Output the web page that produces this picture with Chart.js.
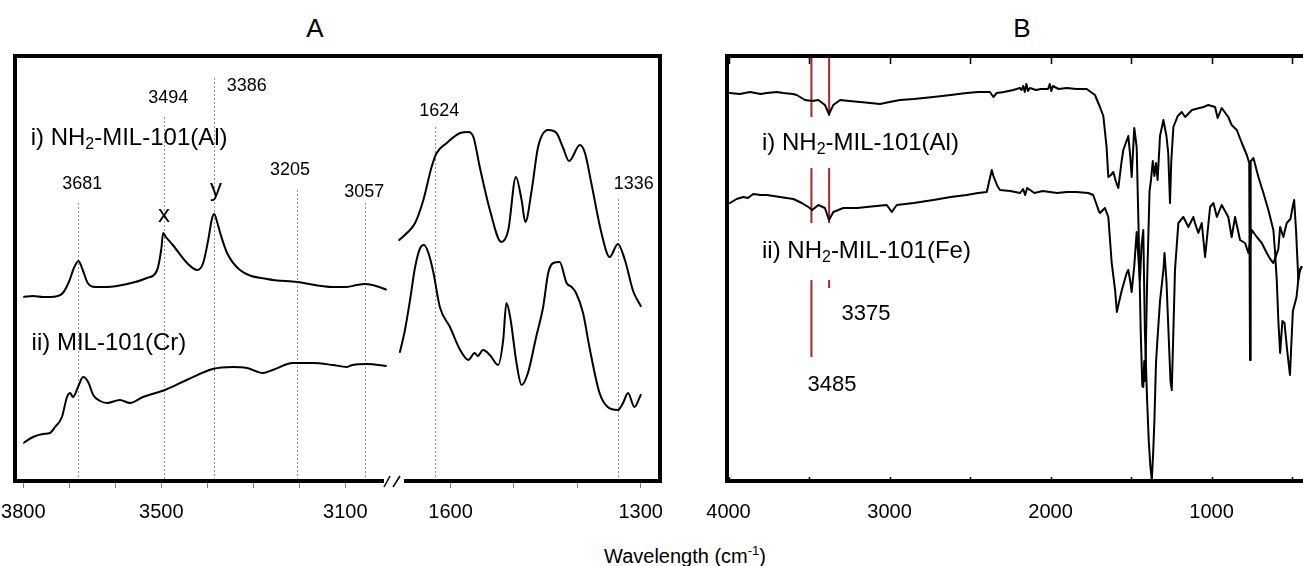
<!DOCTYPE html>
<html>
<head>
<meta charset="utf-8">
<script src="https://cdn.jsdelivr.net/npm/chart.js@4.4.0/dist/chart.umd.min.js"></script>
<style>
  body { margin: 0; width: 1303px; height: 566px; overflow: hidden; background: #fff; position: relative;
         font-family: "Liberation Sans", Arial, sans-serif; }
  canvas { position: absolute; top: 0; }
  .frame { position: absolute; box-sizing: border-box; border: 0 solid #000; pointer-events: none; z-index: 5; }
  .bar { position: absolute; background: #000; z-index: 5; }
  .lbl { position: absolute; color: #000; white-space: nowrap; transform: translateX(-50%); }
</style>
</head>
<body>
<div class="lbl" style="left:315px; top:15px; font-size:26px; line-height:26px;">A</div>
<div class="lbl" style="left:1022px; top:15px; font-size:26px; line-height:26px;">B</div>
<div class="lbl" style="left:685px; top:541px; font-size:20px; line-height:20px;">Wavelength (cm<sup style="font-size:13px;">-1</sup>)</div>

<canvas id="aLeft" width="410" height="566" style="left:0px;"></canvas>
<canvas id="aRight" width="280" height="566" style="left:390px;"></canvas>
<canvas id="bChart" width="603" height="566" style="left:700px;"></canvas>

<div class="frame" style="left:13px; top:54px; width:649px; height:429px; border-width:4px 4px 0 4px;"></div>
<div class="bar" style="left:13px; top:479px; width:371px; height:4px;"></div>
<div class="bar" style="left:404px; top:479px; width:258px; height:4px;"></div>
<div class="frame" style="left:725px; top:54px; width:700px; height:429px; border-width:4px 0 4px 4px;"></div>

<script>
// Panel A, left segment (3800-3010 cm-1)
const aLeftAlWave = [3800, 3779, 3757, 3742, 3725, 3714, 3700, 3690, 3680, 3670, 3660, 3644, 3618, 3574, 3531, 3509, 3500, 3496, 3490, 3475, 3444, 3422, 3409, 3398, 3390, 3385, 3378, 3372, 3357, 3329, 3270, 3205, 3127, 3097, 3075, 3058, 3041, 3008];
const aLeftAlVal = [184, 185, 184, 184, 185, 188, 200, 213, 220, 210, 198, 194, 194, 197, 203, 211, 232, 248, 244, 236, 218, 211, 218, 241, 262, 267, 258, 248, 228, 211, 202, 199, 194, 194, 196, 197, 196, 191];
const aLeftCrWave = [3800, 3779, 3757, 3742, 3731, 3716, 3705, 3698, 3692, 3681, 3670, 3659, 3648, 3633, 3618, 3590, 3568, 3540, 3492, 3445, 3388, 3345, 3314, 3279, 3258, 3214, 3170, 3127, 3097, 3084, 3053, 3008];
const aLeftCrVal = [38, 44, 47, 48, 54, 64, 84, 88, 84, 94, 104, 99, 86, 80, 78, 81, 78, 84, 91, 101, 112, 114, 113, 108, 111, 118, 118, 116, 114, 116, 117, 115];

// Panel A, right segment (1683-1298 cm-1)
const aRightAlWave = [1681, 1669, 1656, 1643, 1630, 1622, 1606, 1585, 1572, 1564, 1554, 1538, 1520, 1509, 1497, 1488, 1482, 1472, 1462, 1446, 1433, 1423, 1413, 1396, 1388, 1378, 1362, 1349, 1336, 1325, 1312, 1300];
const aRightAlVal = [241, 248, 258, 281, 314, 328, 338, 348, 349, 344, 314, 271, 239, 251, 304, 281, 259, 291, 334, 351, 348, 334, 320, 336, 328, 298, 248, 224, 237, 221, 190, 175];
const aRightCrWave = [1680, 1672, 1664, 1656, 1648, 1642, 1635, 1627, 1617, 1601, 1585, 1572, 1562, 1557, 1549, 1538, 1525, 1517, 1512, 1506, 1496, 1488, 1478, 1465, 1454, 1446, 1438, 1428, 1417, 1409, 1402, 1391, 1381, 1365, 1352, 1336, 1328, 1320, 1310, 1300];
const aRightCrVal = [129, 151, 181, 214, 233, 236, 228, 208, 174, 154, 131, 121, 128, 125, 131, 126, 116, 141, 178, 164, 118, 96, 108, 144, 174, 208, 218, 219, 198, 194, 188, 168, 134, 88, 74, 71, 78, 88, 74, 86];

// Panel B (4000-432 cm-1)
const bAlWave = [3991, 3930, 3866, 3800, 3763, 3700, 3660, 3600, 3576, 3525, 3480, 3442, 3401, 3376, 3349, 3307, 3250, 3183, 3120, 3059, 3000, 2935, 2850, 2728, 2620, 2521, 2450, 2376, 2355, 2334, 2290, 2231, 2190, 2180, 2170, 2160, 2150, 2140, 2128, 2090, 2060, 2015, 2005, 1995, 1985, 1950, 1899, 1840, 1775, 1724, 1693, 1672, 1652, 1641, 1625, 1610, 1595, 1579, 1560, 1548, 1517, 1505, 1496, 1480, 1465, 1450, 1440, 1430, 1424, 1418, 1412, 1400, 1385, 1376, 1365, 1355, 1345, 1335, 1320, 1299, 1280, 1269, 1258, 1250, 1237, 1210, 1185, 1164, 1122, 1050, 1020, 978, 962, 937, 896, 875, 843, 812, 781, 766, 761, 757, 750, 740, 709, 678, 647, 616, 606, 595, 585, 574, 560, 547, 530, 513, 495, 472, 457, 441];
const bAlVal = [388, 387, 389, 387, 388, 389, 388, 387, 386, 381, 380, 381, 376, 367, 376, 381, 380, 379, 378, 377, 379, 381, 382, 384, 386, 388, 389, 389, 384, 388, 389, 391, 393, 391, 395, 389, 397, 390, 393, 391, 392, 392, 397, 390, 395, 392, 393, 392, 392, 386, 374, 365, 334, 304, 306, 309, 300, 293, 318, 331, 345, 325, 304, 353, 334, 230, 150, 95, 94, 120, 100, 200, 290, 301, 320, 305, 318, 301, 345, 361, 345, 328, 278, 320, 354, 365, 369, 364, 371, 374, 376, 374, 363, 373, 364, 356, 351, 338, 326, 318, 121, 320, 321, 323, 304, 288, 271, 251, 230, 201, 160, 128, 160, 158, 130, 106, 170, 184, 208, 214];
const bFeWave = [3991, 3950, 3908, 3880, 3846, 3800, 3763, 3720, 3680, 3640, 3597, 3545, 3504, 3480, 3442, 3401, 3376, 3349, 3287, 3200, 3142, 3080, 3017, 2986, 2955, 2850, 2728, 2620, 2521, 2450, 2396, 2365, 2355, 2345, 2330, 2314, 2250, 2189, 2170, 2158, 2145, 2100, 2050, 2003, 1960, 1899, 1840, 1766, 1735, 1713, 1700, 1693, 1662, 1641, 1620, 1599, 1588, 1573, 1557, 1527, 1517, 1505, 1496, 1480, 1465, 1455, 1445, 1435, 1424, 1414, 1400, 1390, 1380, 1371, 1362, 1355, 1345, 1335, 1320, 1299, 1292, 1280, 1265, 1255, 1247, 1237, 1227, 1206, 1175, 1144, 1113, 1103, 1082, 1061, 1040, 1009, 988, 967, 937, 896, 875, 854, 823, 792, 771, 750, 719, 688, 657, 636, 616, 600, 585, 574, 554, 533, 510, 495, 487, 475, 461, 450, 441];
const bFeVal = [278, 282, 284, 283, 287, 286, 286, 285, 284, 283, 282, 278, 274, 271, 276, 273, 261, 269, 273, 273, 274, 275, 276, 269, 276, 278, 281, 284, 286, 288, 289, 311, 305, 301, 295, 291, 290, 288, 292, 286, 293, 288, 290, 289, 288, 289, 289, 288, 286, 276, 270, 268, 273, 264, 218, 191, 169, 180, 191, 208, 211, 200, 189, 215, 249, 225, 200, 235, 251, 150, 80, 40, 15, 1, 30, 60, 118, 144, 180, 211, 228, 200, 140, 100, 91, 150, 211, 258, 264, 254, 264, 258, 248, 258, 224, 274, 278, 264, 276, 264, 244, 264, 241, 238, 228, 251, 244, 238, 228, 222, 218, 225, 232, 254, 244, 258, 262, 275, 281, 250, 201, 212, 214];

// tick positions and the tick labels that are printed
const aLeftTicks = [3800, 3700, 3600, 3500, 3400, 3300, 3200, 3100];
const aLeftTickLabels = [3800, 3500, 3100];
const aRightTicks = [1600, 1500, 1400, 1300];
const aRightTickLabels = [1600, 1300];
const bTicks = [4000, 3500, 3000, 2500, 2000, 1500, 1000, 500];
const bTickLabels = [4000, 3000, 2000, 1000];

// marked peaks
const aLeftPeaks = [3681, 3494, 3386, 3205, 3057];
const aRightPeaks = [1624, 1336];
const bPeaks = [3485, 3375];

const FONT = '"Liberation Sans", Arial, sans-serif';

function toPoints(wave, val) {
    return wave.map(function (w, i) { return { x: w, y: val[i] }; });
}

// text with {2} style subscripts, y is the baseline
function drawRich(ctx, str, x, y, size, align) {
    const parts = str.split(/(\{[^}]*\})/).filter(Boolean).map(function (p) {
        return p[0] === "{" ? { t: p.slice(1, -1), sub: true } : { t: p, sub: false };
    });
    const big = size + "px " + FONT;
    const small = Math.round(size * 0.65) + "px " + FONT;
    let w = 0;
    parts.forEach(function (p) {
        ctx.font = p.sub ? small : big;
        p.w = ctx.measureText(p.t).width;
        w += p.w;
    });
    let cx = align === "center" ? x - w / 2 : x;
    ctx.textAlign = "left";
    ctx.textBaseline = "alphabetic";
    ctx.fillStyle = "#000";
    parts.forEach(function (p) {
        ctx.font = p.sub ? small : big;
        ctx.fillText(p.t, cx, p.sub ? y + size * 0.18 : y);
        cx += p.w;
    });
}

const notesPlugin = {
    id: "notes",
    beforeDatasetsDraw(chart, args, opts) {
        const ctx = chart.ctx, xs = chart.scales.x, ys = chart.scales.y;
        ctx.save();
        ctx.strokeStyle = "#8c8c8c";
        ctx.lineWidth = 1;
        ctx.setLineDash([2, 2]);
        (opts.dotted || []).forEach(function (d) {
            const px = Math.round(xs.getPixelForValue(d.x)) + 0.5;
            ctx.beginPath();
            ctx.moveTo(px, ys.getPixelForValue(d.top));
            ctx.lineTo(px, ys.getPixelForValue(0));
            ctx.stroke();
        });
        ctx.setLineDash([]);
        ctx.strokeStyle = "#a3272b";
        ctx.lineWidth = 2;
        (opts.red || []).forEach(function (r) {
            const px = xs.getPixelForValue(r.x);
            r.spans.forEach(function (s) {
                ctx.beginPath();
                ctx.moveTo(px, ys.getPixelForValue(s[0]));
                ctx.lineTo(px, ys.getPixelForValue(s[1]));
                ctx.stroke();
            });
        });
        ctx.restore();
    },
    afterDatasetsDraw(chart, args, opts) {
        const ctx = chart.ctx, xs = chart.scales.x, ys = chart.scales.y, area = chart.chartArea;
        ctx.save();
        (opts.texts || []).forEach(function (t) {
            drawRich(ctx, t.s, xs.getPixelForValue(t.x), ys.getPixelForValue(t.y), t.size, t.align);
        });
        if (opts.breakMarks) {
            ctx.strokeStyle = "#000";
            ctx.lineWidth = 1.5;
            [[384, 390], [393, 400]].forEach(function (m) {
                ctx.beginPath();
                ctx.moveTo(m[0], 487);
                ctx.lineTo(m[1], 476);
                ctx.stroke();
            });
        }
        if (opts.innerTicks) {
            ctx.strokeStyle = "#000";
            ctx.lineWidth = 1.5;
            xs.ticks.forEach(function (tk) {
                const px = Math.round(xs.getPixelForValue(tk.value)) + 0.5;
                ctx.beginPath();
                ctx.moveTo(px, area.top);
                ctx.lineTo(px, area.top + 8);
                ctx.moveTo(px, area.bottom);
                ctx.lineTo(px, area.bottom - 4);
                ctx.stroke();
            });
        }
        ctx.restore();
    }
};

function lineSet(wave, val, smooth) {
    return {
        data: toPoints(wave, val),
        borderColor: "#000",
        borderWidth: 2,
        pointRadius: 0,
        fill: false,
        borderJoinStyle: "round",
        borderCapStyle: "round",
        cubicInterpolationMode: smooth ? "monotone" : "default",
        tension: 0
    };
}

function makeChart(id, sets, xr, tickVals, labels, pad, outerTicks, notes) {
    const ctx = document.getElementById(id).getContext("2d");
    return new Chart(ctx, {
        type: "line",
        data: { datasets: sets },
        options: {
            responsive: false,
            animation: false,
            events: [],
            layout: { padding: pad },
            plugins: { legend: { display: false }, tooltip: { enabled: false }, notes: notes },
            scales: {
                x: {
                    type: "linear",
                    reverse: true,
                    min: xr[0],
                    max: xr[1],
                    afterBuildTicks: function (scale) {
                        scale.ticks = tickVals.map(function (v) { return { value: v }; });
                    },
                    afterTickToLabelConversion: function (scale) {
                        scale.ticks.forEach(function (t) {
                            t.label = labels.indexOf(t.value) >= 0 ? String(t.value) : "";
                        });
                    },
                    afterFit: function (scale) {
                        scale.height = 60;
                        scale.paddingLeft = 0;
                        scale.paddingRight = 0;
                    },
                    border: { display: false },
                    grid: {
                        display: outerTicks,
                        drawOnChartArea: false,
                        drawTicks: outerTicks,
                        tickLength: 7,
                        color: "#7a7a7a",
                        lineWidth: 1
                    },
                    ticks: {
                        autoSkip: false,
                        maxRotation: 0,
                        padding: outerTicks ? 12 : 19,
                        color: "#000",
                        font: { family: FONT, size: 20 }
                    }
                },
                y: { display: false, min: 0, max: 425 }
            }
        },
        plugins: [notesPlugin]
    });
}

makeChart("aLeft",
    [lineSet(aLeftAlWave, aLeftAlVal, true), lineSet(aLeftCrWave, aLeftCrVal, true)],
    [3010, 3800], aLeftTicks, aLeftTickLabels,
    { left: 23.3, right: 23.3, top: 56, bottom: 25 }, true,
    {
        dotted: [
            { x: aLeftPeaks[0], top: 278 }, { x: aLeftPeaks[1], top: 364 }, { x: aLeftPeaks[2], top: 403 },
            { x: aLeftPeaks[3], top: 291 }, { x: aLeftPeaks[4], top: 278 }
        ],
        texts: [
            { s: "3681", x: 3672, y: 292, size: 18, align: "center" },
            { s: "3494", x: 3485, y: 378, size: 18, align: "center" },
            { s: "3386", x: 3314, y: 390, size: 18, align: "center" },
            { s: "3205", x: 3220, y: 306, size: 18, align: "center" },
            { s: "3057", x: 3059, y: 284, size: 18, align: "center" },
            { s: "x", x: 3494, y: 259, size: 24, align: "center" },
            { s: "y", x: 3381, y: 285, size: 24, align: "center" },
            { s: "i) NH{2}-MIL-101(Al)", x: 3784, y: 336, size: 24, align: "left" },
            { s: "ii) MIL-101(Cr)", x: 3782, y: 131, size: 24, align: "left" }
        ],
        breakMarks: true
    });

makeChart("aRight",
    [lineSet(aRightAlWave, aRightAlVal, true), lineSet(aRightCrWave, aRightCrVal, true)],
    [1298, 1683], aRightTicks, aRightTickLabels,
    { left: 8, right: 28, top: 56, bottom: 25 }, true,
    {
        dotted: [{ x: aRightPeaks[0], top: 354 }, { x: aRightPeaks[1], top: 282 }],
        texts: [
            { s: "1624", x: 1618, y: 365, size: 18, align: "center" },
            { s: "1336", x: 1311, y: 292, size: 18, align: "center" }
        ]
    });

makeChart("bChart",
    [lineSet(bAlWave, bAlVal, false), lineSet(bFeWave, bFeVal, false)],
    [432, 4000], bTicks, bTickLabels,
    { left: 28.5, right: 0, top: 56, bottom: 25 }, false,
    {
        red: [
            { x: bPeaks[0], spans: [[423, 364], [313, 258], [201, 124]] },
            { x: bPeaks[1], spans: [[423, 365], [313, 258], [201, 193]] }
        ],
        texts: [
            { s: "i) NH{2}-MIL-101(Al)", x: 3792, y: 331, size: 24, align: "left" },
            { s: "ii) NH{2}-MIL-101(Fe)", x: 3792, y: 223, size: 24, align: "left" },
            { s: "3375", x: 3146, y: 161, size: 22, align: "center" },
            { s: "3485", x: 3357, y: 90, size: 22, align: "center" }
        ],
        innerTicks: true
    });
</script>
</body>
</html>
